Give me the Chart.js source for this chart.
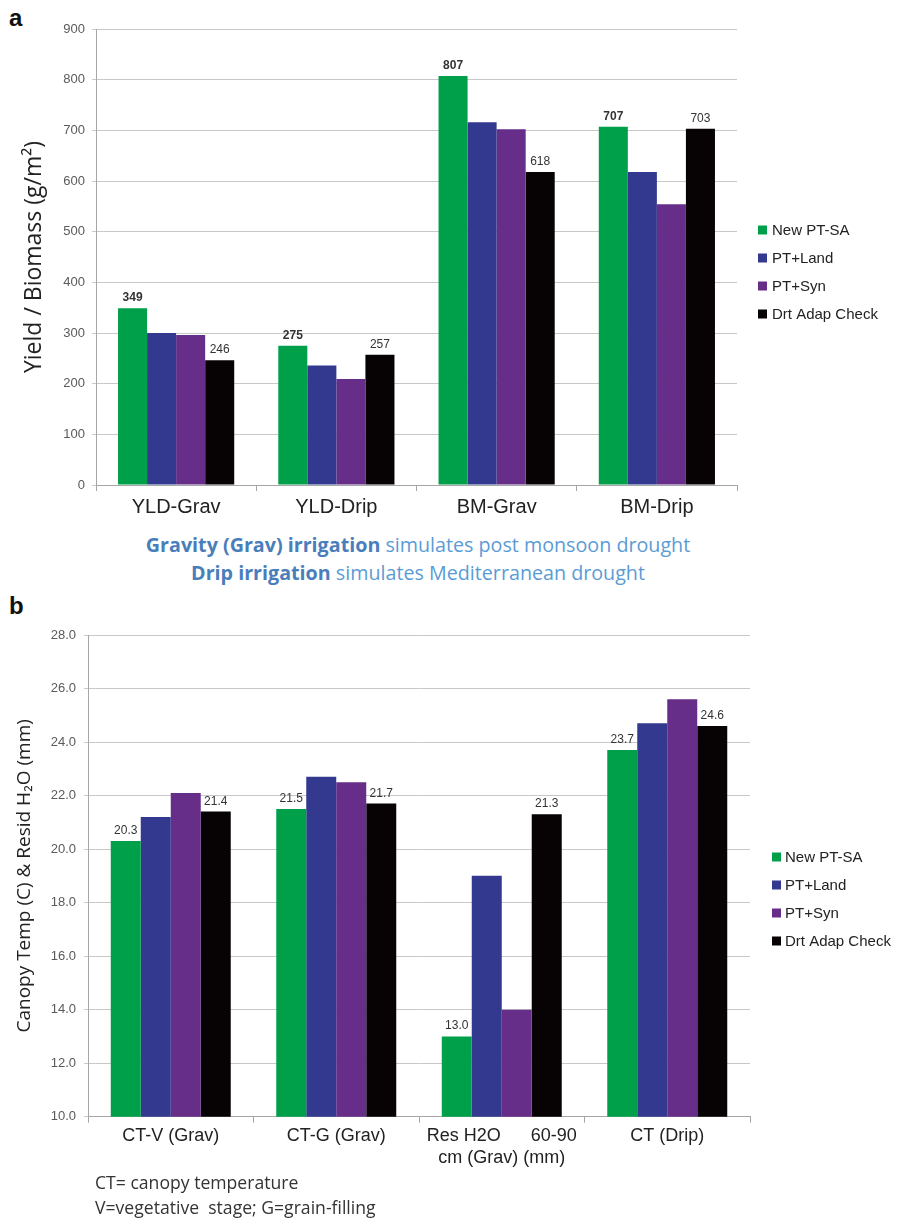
<!DOCTYPE html>
<html><head><meta charset="utf-8">
<script src="https://cdn.jsdelivr.net/npm/chart.js@4.4.0/dist/chart.umd.min.js"></script>
<style>
html,body{margin:0;padding:0;background:#fff;}
#wrap{position:relative;width:898px;height:1221px;overflow:hidden;background:#fff;}
canvas{position:absolute;left:0;}
.lbl{position:absolute;font-family:'Liberation Sans',Arial,sans-serif;font-weight:bold;font-size:24px;color:#111;line-height:24px;}
.sub{position:absolute;left:0;width:836px;text-align:center;font-family:'Open Sans',sans-serif;font-size:19.7px;line-height:28px;color:#5b9bd5;white-space:nowrap;}
.sub b{color:#4a7ebb;font-weight:700}
.foot{position:absolute;left:95px;font-family:'Open Sans',sans-serif;font-size:17.6px;line-height:25px;color:#333;white-space:pre;}
</style></head>
<body><div id="wrap">
<div class="lbl" style="left:9px;top:6px">a</div>
<div class="lbl" style="left:9px;top:594px">b</div>
<canvas id="chartA" width="898" height="530" style="top:0"></canvas>
<div class="sub" style="top:531px"><b>Gravity (Grav) irrigation</b> simulates post monsoon drought<br><b>Drip irrigation</b> simulates Mediterranean drought</div>
<canvas id="chartB" width="898" height="626" style="top:595px"></canvas>
<div class="foot" style="top:1170px">CT= canopy temperature</div>
<div class="foot" style="top:1195px">V=vegetative  stage; G=grain-filling</div>
</div>
<script>
const seriesNames = ['New PT-SA','PT+Land','PT+Syn','Drt Adap Check'];
const seriesColors = ['#00a04b','#33398f','#662d89','#070304'];

const categoriesA = ['YLD-Grav','YLD-Drip','BM-Grav','BM-Drip'];
const newPtSaA = [349, 275, 807, 707];
const ptLandA  = [300, 236, 716, 618];
const ptSynA   = [296, 209, 702, 554];
const drtCheckA= [246, 257, 618, 703];
const yTicksA = {min:0, max:900, step:100};

const categoriesB = ['CT-V (Grav)','CT-G (Grav)',['Res H2O      60-90','cm (Grav) (mm)'],'CT (Drip)'];
const newPtSaB = [20.3, 21.5, 13.0, 23.7];
const ptLandB  = [21.2, 22.7, 19.0, 24.7];
const ptSynB   = [22.1, 22.5, 14.0, 25.6];
const drtCheckB= [21.4, 21.7, 21.3, 24.6];
const yTicksB = {min:10, max:28, step:2};

const ARIAL = "'Liberation Sans', Arial, sans-serif";

const legendPlugin = {
  id:'customLegend',
  afterDraw(chart, args, opts){
    const ctx = chart.ctx; ctx.save();
    ctx.font = '15px ' + ARIAL;
    ctx.textBaseline = 'middle'; ctx.textAlign = 'left';
    chart.data.datasets.forEach((ds,i)=>{
      const y = opts.y + i*opts.gap;
      ctx.fillStyle = ds.backgroundColor;
      ctx.fillRect(opts.x, y-4.5, 9, 9);
      ctx.fillStyle = '#222';
      ctx.fillText(ds.label, opts.x + opts.textGap, y+0.5);
    });
    ctx.restore();
  }
};

const valueLabels = {
  id:'valueLabels',
  afterDatasetsDraw(chart, args, opts){
    const ctx = chart.ctx; ctx.save();
    ctx.textAlign = 'center'; ctx.textBaseline = 'alphabetic';
    ctx.fillStyle = '#333';
    opts.show.forEach(s=>{
      const meta = chart.getDatasetMeta(s.index);
      const data = chart.data.datasets[s.index].data;
      ctx.font = (s.bold ? 'bold ' : '') + '12px ' + ARIAL;
      meta.data.forEach((bar,j)=>{
        ctx.fillText(opts.fmt(data[j]), bar.x, bar.y - 7);
      });
    });
    ctx.restore();
  }
};

function makeDatasets(arrs){
  return arrs.map((d,i)=>({label:seriesNames[i], data:d, backgroundColor:seriesColors[i], borderWidth:0,
    barPercentage:1.0, categoryPercentage:0.725}));
}

function makeChart(id, cats, arrs, cfg){
  return new Chart(document.getElementById(id), {
    type:'bar',
    data:{labels:cats, datasets:makeDatasets(arrs)},
    plugins:[legendPlugin, valueLabels],
    options:{
      responsive:false, animation:false, devicePixelRatio:1,
      layout:{padding:cfg.padding},
      plugins:{
        legend:{display:false}, tooltip:{enabled:false},
        customLegend:cfg.legend,
        valueLabels:{show:cfg.show, fmt:cfg.fmt}
      },
      scales:{
        x:{
          offset:true,
          grid:{display:true, drawOnChartArea:false, drawTicks:true, tickLength:6, color:'#a6a6a6', offset:true},
          border:{color:'#a6a6a6', width:1},
          ticks:{font:{family:ARIAL, size:cfg.xFont}, color:'#222', padding:cfg.xPad, maxRotation:0, autoSkip:false},
          afterFit(s){ s.height = cfg.xHeight; }
        },
        y:{
          min:cfg.ticks.min, max:cfg.ticks.max,
          grid:{color:'#c8c8c8', lineWidth:1, drawTicks:true, tickLength:4},
          border:{color:'#a6a6a6', width:1},
          ticks:{stepSize:cfg.ticks.step, font:{family:ARIAL, size:13}, color:'#5a5a5a', padding:cfg.yPad,
            callback:cfg.tickFmt},
          title:{display:true, text:cfg.title, font:{family:"'Open Sans', sans-serif", size:cfg.titleSize}, color:'#222',
            padding:{top:cfg.titlePad, bottom:0}},
          afterFit(s){ s.width = cfg.yWidth; }
        }
      }
    }
  });
}

makeChart('chartA', categoriesA, [newPtSaA, ptLandA, ptSynA, drtCheckA], {
  padding:{top:29, right:161, bottom:0, left:0},
  legend:{x:758, y:230, gap:28, textGap:14},
  show:[{index:0,bold:true},{index:3,bold:false}],
  fmt:v=>String(v),
  xFont:20, xPad:4, xHeight:45, yPad:7,
  ticks:yTicksA, tickFmt:v=>String(v),
  title:'Yield / Biomass (g/m²)', titleSize:23, titlePad:21, yWidth:96
});

makeChart('chartB', categoriesB, [newPtSaB, ptLandB, ptSynB, drtCheckB], {
  padding:{top:40, right:148, bottom:0, left:0},
  legend:{x:772, y:262, gap:28, textGap:13},
  show:[{index:0,bold:false},{index:3,bold:false}],
  fmt:v=>v.toFixed(1),
  xFont:18, xPad:3, xHeight:104.3, yPad:8,
  ticks:yTicksB, tickFmt:v=>v.toFixed(1),
  title:'Canopy Temp (C) & Resid H₂O (mm)', titleSize:19, titlePad:13, yWidth:88
});
</script>
</body></html>
